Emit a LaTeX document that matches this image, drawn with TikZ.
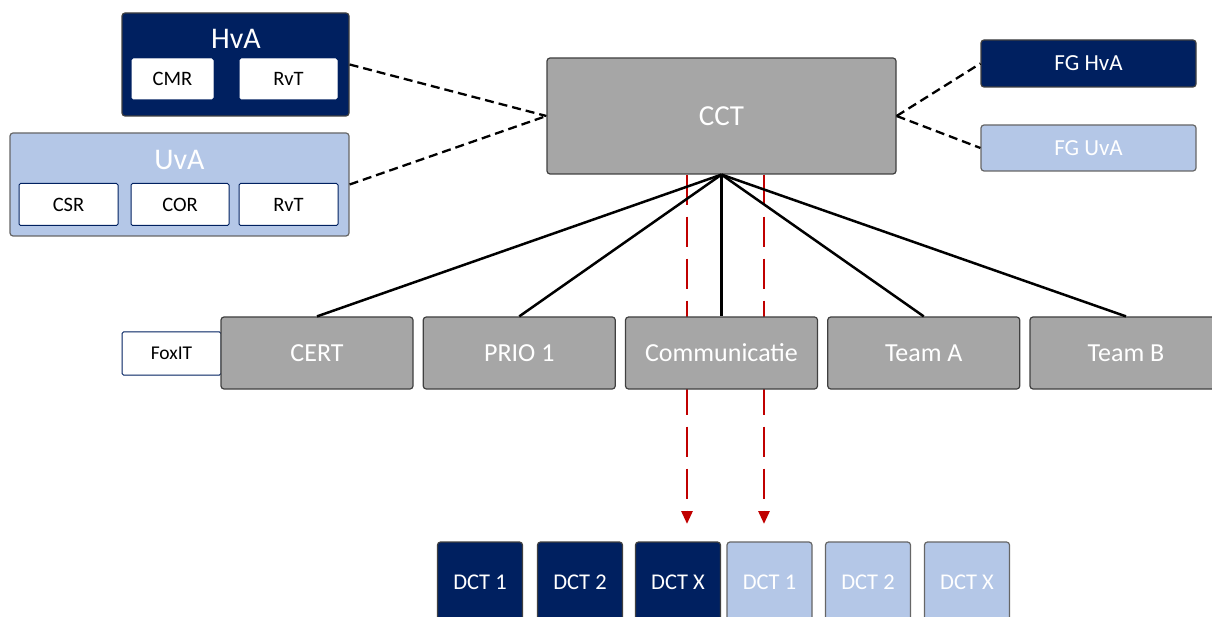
\documentclass[tikz,border=0pt]{standalone}
\usepackage{fontspec}
\setmainfont{Carlito}
\usetikzlibrary{positioning,arrows.meta}
\definecolor{navy}{RGB}{0,32,96}
\definecolor{lightblue}{RGB}{180,199,231}
\definecolor{cctgrey}{RGB}{166,166,166}
\definecolor{dctred}{RGB}{192,0,0}
\begin{document}
\begin{tikzpicture}[x=1pt,y=-1pt,
  every node/.style={inner sep=0pt},
  orgbox/.style={draw=black!75, line width=1.2pt, rounded corners=3pt},
  navybox/.style={orgbox, fill=navy, text=white},
  lightbox/.style={orgbox, draw=black!60, fill=lightblue, text=white},
  greybox/.style={orgbox, fill=cctgrey, text=white},
  subbox/.style={draw=navy, line width=1pt, rounded corners=1.5pt, fill=white,
    text=black, minimum height=42pt, font=\fontsize{20.5}{24}\selectfont},
  dashlink/.style={dash pattern=on 9pt off 5pt, line width=2.3pt},
  solidlink/.style={line width=2.5pt},
  redlink/.style={dctred, line width=2.8pt, dash pattern=on 30pt off 12pt,
    -{Triangle[length=13pt,width=11pt]}}]
\useasboundingbox (0,0) rectangle (1212,617);
\clip (0,0) rectangle (1212,617);

% universities with their parts
\node[navybox, minimum width=227pt, minimum height=103pt] (hva) at (235.5,64.5) {};
\node[text=white, font=\fontsize{30}{34}\selectfont] (hvalbl) at (236,39) {HvA};
\node[subbox, draw=white, minimum width=81pt, minimum height=40pt] (cmr) at (172.5,79) {CMR};
\node[subbox, draw=white, minimum width=97pt, minimum height=40pt] (rvth) at (288.5,79) {RvT};

\node[lightbox, minimum width=339pt, minimum height=103pt] (uva) at (179.5,184.5) {};
\node[text=white, font=\fontsize{30}{34}\selectfont] (uvalbl) at (179.5,160) {UvA};
\node[subbox, minimum width=99pt] (csr) at (68.5,204.5) {CSR};
\node[subbox, minimum width=98pt] (cor) at (180,204.5) {COR};
\node[subbox, minimum width=99pt] (rvtu) at (288.5,204.5) {RvT};

% core team
\node[greybox, minimum width=349pt, minimum height=116pt,
  font=\fontsize{29}{32}\selectfont] (cct) at (721.5,116) {CCT};

\node[navybox, minimum width=215pt, minimum height=47pt,
  font=\fontsize{23}{26}\selectfont] (fghva) at (1088.5,63.5) {FG HvA};
\node[lightbox, minimum width=215pt, minimum height=46pt,
  font=\fontsize{23}{26}\selectfont] (fguva) at (1088.5,148) {FG UvA};

% red links run behind the teams
\coordinate (dctl) at (687,524);
\coordinate (dctr) at (764,524);
\draw[redlink] (cct.south -| dctl) -- (dctl);
\draw[redlink] (cct.south -| dctr) -- (dctr);

% teams
\node[subbox, minimum width=99pt, minimum height=43pt, font=\fontsize{19.5}{23}\selectfont]
  (foxit) at (171.5,353.5) {FoxIT};
\foreach \name/\txt [count=\i from 0] in {cert/CERT, prio/PRIO 1,
    comm/Communicatie, teama/Team A, teamb/Team B} {
  \node[greybox, minimum width=192pt, minimum height=72pt,
    font=\fontsize{26}{30}\selectfont] (\name) at (317+202.25*\i,353) {\txt};
  \draw[solidlink] (cct.south) -- (\name.north);
}

% dashed links
\draw[dashlink] (hva.east) -- (cct.west);
\draw[dashlink] (uva.east) -- (cct.west);
\draw[dashlink] (cct.east) -- (fghva.west);
\draw[dashlink] (cct.east) -- (fguva.west);

% decentral teams
\foreach \name/\txt/\xc/\sty in {dcth1/DCT 1/480/navybox, dcth2/DCT 2/580/navybox,
    dcthx/DCT X/678/navybox, dctu1/DCT 1/769.5/lightbox,
    dctu2/DCT 2/868/lightbox, dctux/DCT X/967/lightbox} {
  \node[\sty, minimum width=85pt, minimum height=150pt] (\name) at (\xc,617) {};
  \node[text=white, font=\fontsize{22.5}{26}\selectfont] (\name lbl) at (\xc,582) {\txt};
}
\end{tikzpicture}
\end{document}
